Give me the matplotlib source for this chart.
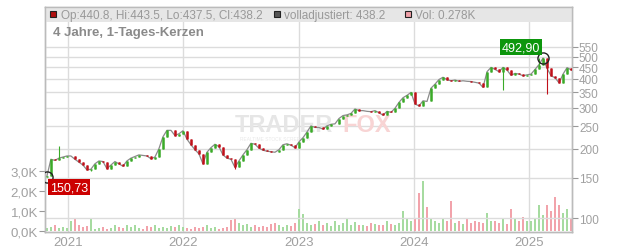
# -*- coding: utf-8 -*-
# Candlestick chart with volume, 4 years of daily candles (TraderFox style).

import numpy as np
import pandas as pd
import matplotlib
matplotlib.use("Agg")
from matplotlib import pyplot as plt
from matplotlib import dates as mdates
from matplotlib.patches import Rectangle
from matplotlib.ticker import FixedLocator, NullLocator

# ==============================================================================
# DATA
# ==============================================================================
start_date = "2020-10-25"
end_date = "2025-05-14"

closes = [
    152, 180, 178, 182, 184, 186, 186, 180, 175, 170, 162, 163,
    172, 177, 176, 164, 170, 176, 172, 168, 177, 182, 185, 188, 187,
    186, 181, 184, 200, 225, 240, 240, 228, 232, 239, 220, 208, 198, 190,
    172, 193, 202, 209, 204, 188, 182, 180, 166, 177, 188, 198, 211,
    209, 201, 197, 195, 194, 193, 198, 208, 210, 207, 202, 214, 223,
    236, 251, 247, 247, 243, 251, 255, 256, 270, 278, 280, 284, 297,
    292, 292, 290, 289, 292, 286, 279, 290, 287, 299, 317, 332, 340,
    350, 312, 306, 322, 320, 365, 380, 398, 407, 397, 393, 396, 391,
    393, 391, 390, 387, 384, 368, 430, 449, 440, 430, 449, 437, 415,
    423, 420, 413, 417, 420, 440, 462, 492.9, 445, 413, 405, 385, 420, 448, 438.2,
]
first_open = 150.73
# notable wick extremes (candle index -> value)
wick_highs = {3: 205, 111: 350, 123: 492.9}
wick_lows = {0: 150.73, 11: 160, 47: 163, 114: 360, 125: 346}

volume_k = [
    0.15, 0.2, 0.3, 0.15, 0.2, 0.12, 0.5, 0.6, 0.3, 0.2, 0.25, 0.6,
    0.1, 0.15, 0.2, 0.1, 0.15, 0.3, 0.2, 0.15, 0.3, 0.2, 0.3, 0.15, 0.1,
    0.25, 0.2, 0.3, 0.15, 0.2, 0.15, 0.25, 0.2, 0.3, 0.2, 0.15, 0.1, 0.2, 0.15,
    0.2, 0.3, 0.15, 0.2, 0.1, 0.15, 0.2, 0.55, 0.6, 0.4, 0.3, 0.35, 0.2,
    0.3, 0.2, 0.25, 0.2, 0.35, 0.4, 0.3, 0.2, 0.3, 0.25, 0.4, 1.1, 0.85,
    0.4, 0.3, 0.35, 0.5, 0.3, 0.4, 0.25, 0.5, 0.3, 0.4, 0.6, 0.3, 0.45,
    0.3, 0.3, 0.25, 0.4, 0.35, 0.3, 0.3, 0.5, 0.35, 0.3, 0.4, 1.0, 0.6,
    0.5, 0.6, 1.9, 2.5, 1.2, 0.6, 0.5, 0.4, 0.6, 0.5, 1.5, 0.4, 0.5,
    0.35, 0.6, 0.4, 0.5, 0.45, 0.4, 0.9, 0.5, 0.5, 0.4, 0.6, 0.35, 1.1,
    0.6, 0.5, 0.7, 0.5, 0.5, 0.6, 1.3, 0.8, 1.3, 1.0, 1.7, 1.3, 0.9, 1.1, 0.6,
]

price_ticks = [100, 150, 200, 250, 300, 350, 400, 450, 500, 550]
volume_ticks = [0, 1, 2, 3]
volume_tick_labels = ["0,0K", "1,0K", "2,0K", "3,0K"]
year_ticks = ["2021", "2022", "2023", "2024", "2025"]

header_ohlc = "Op:440.8, Hi:443.5, Lo:437.5, Cl:438.2"
header_adj = "volladjustiert: 438.2"
header_vol = "Vol: 0.278K"
title_text = "4 Jahre, 1-Tages-Kerzen"
max_label = "492,90"
min_label = "150,73"

# ==============================================================================
# PREPARE
# ==============================================================================
plt.rcParams["font.family"] = ["Liberation Sans", "DejaVu Sans"]

n = len(closes)
t0 = mdates.date2num(pd.Timestamp(start_date))
t1 = mdates.date2num(pd.Timestamp(end_date))
x = np.linspace(t0, t1, n)
step = (t1 - t0) / (n - 1)

opens = np.array([first_open] + closes[:-1])
closes_arr = np.array(closes)
up = closes_arr >= opens
highs = np.maximum(opens, closes_arr)
lows = np.minimum(opens, closes_arr)
for i, v in wick_highs.items():
    highs[i] = max(highs[i], v)
for i, v in wick_lows.items():
    lows[i] = min(lows[i], v)

RED = "#c0101a"
GREEN = "#3aaa28"
GRID = "#dcdcdc"
TXT = "#a0a0a0"

W, H = 632, 253
fig = plt.figure(figsize=(W / 100, H / 100), dpi=100)
left, right, top, bottom = 45, 572, 8, 233
ax_vol = fig.add_axes([left / W, 1 - bottom / H, (right - left) / W, (bottom - top) / H])
ax = ax_vol.twinx()

# ==============================================================================
# VOLUME (left axis)
# ==============================================================================
vol_colors = ["#a6dba0" if u else "#f2a3ab" for u in up]
ax_vol.bar(x, volume_k, width=step * 0.55, color=vol_colors, linewidth=0, zorder=2)
ax_vol.set_ylim(-0.07, 11.3)
ax_vol.yaxis.set_major_locator(FixedLocator(volume_ticks))
ax_vol.set_yticklabels(volume_tick_labels)
ax_vol.tick_params(axis="y", colors="#999999", labelcolor=TXT, labelsize=9.5, length=4, pad=1)

# x axis
ax_vol.set_xlim(mdates.date2num(pd.Timestamp("2020-10-19")), mdates.date2num(pd.Timestamp("2025-05-17")))
year_pos = [mdates.date2num(pd.Timestamp(y + "-01-01")) for y in year_ticks]
ax_vol.set_xticks(year_pos)
ax_vol.set_xticklabels(year_ticks)
ax_vol.tick_params(axis="x", length=0, labelcolor=TXT, labelsize=9.5, pad=3)
for xp in year_pos:
    ax_vol.axvline(xp, color=GRID, linewidth=1, zorder=0)

# ==============================================================================
# PRICE (right axis, log)
# ==============================================================================
ax.set_yscale("log")
ax.set_ylim(87.3, 818.7)
ax.yaxis.set_major_locator(FixedLocator(price_ticks))
ax.yaxis.set_minor_locator(NullLocator())
ax.set_yticklabels([str(t) for t in price_ticks])
ax.tick_params(axis="y", colors="#999999", labelcolor=TXT, labelsize=8.5, length=4, pad=1)
for p in price_ticks:
    ax.axhline(p, color=GRID, linewidth=1, zorder=0)

# watermark
ax.text(0.36, 0.48, "TRADER", transform=ax.transAxes, fontsize=17, fontweight="bold",
        color="#e6e6e6", ha="left", va="center", zorder=1)
ax.text(0.565, 0.48, "FOX", transform=ax.transAxes, fontsize=17, fontweight="bold",
        color="#f8d4d4", ha="left", va="center", zorder=1)
ax.text(0.37, 0.415, "REALTIME STOCK SCREENER", transform=ax.transAxes, fontsize=3.5,
        color="#e8e8e8", ha="left", va="center", zorder=1)

# adjusted close line
ax.plot(x, closes_arr, color="#8a8a8a", linewidth=0.9, zorder=3)

# candles
cols = [GREEN if u else RED for u in up]
ax.vlines(x, lows, highs, colors=cols, linewidth=0.8, zorder=4)
ax.vlines(x, np.minimum(opens, closes_arr), np.maximum(opens, closes_arr),
          colors=cols, linewidth=1.8, zorder=4)

# min / max markers
i_max = int(np.argmax(closes_arr))
ax.plot(x[i_max], closes_arr[i_max], "o", ms=8, mfc="none", mec="#222222", mew=1, zorder=6)
ax.annotate(max_label, (x[i_max], closes_arr[i_max]), xytext=(-22, 11), textcoords="offset pixels",
            ha="center", va="center", fontsize=9, color="white", zorder=7,
            bbox=dict(boxstyle="square,pad=0.15", fc="#0d960d", ec="none"))
ax.plot(x[0], wick_lows[0], "o", ms=8, mfc="none", mec="#222222", mew=1, zorder=6)
ax.annotate(min_label, (x[0], wick_lows[0]), xytext=(22, -10), textcoords="offset pixels",
            ha="center", va="center", fontsize=9, color="white", zorder=7,
            bbox=dict(boxstyle="square,pad=0.15", fc="#cc0000", ec="none"))

# frame
for a in (ax, ax_vol):
    for s in a.spines.values():
        s.set_color("#bbbbbb")
        s.set_linewidth(1)

# header band
ax.add_patch(Rectangle((0, 1 - 15 / (bottom - top)), 1, 15 / (bottom - top), transform=ax.transAxes,
                       facecolor="#e6e6e6", edgecolor="none", zorder=0.5))


def fx(px):
    return px / W


def fy(py):
    return 1 - py / H


def square(px, py, color):
    fig.patches.append(Rectangle((fx(px), fy(py + 5)), 6 / W, 6 / H, transform=fig.transFigure,
                                 facecolor=color, edgecolor="#222222", linewidth=0.8))


square(50, 13, "#b01010")
fig.text(fx(61), fy(16), header_ohlc, fontsize=8.5, color="#999999", va="center")
square(274, 13, "#555555")
fig.text(fx(284), fy(16), header_adj, fontsize=8.5, color="#999999", va="center")
square(405, 13, "#f0a0a8")
fig.text(fx(415), fy(16), header_vol, fontsize=8.5, color="#999999", va="center")
fig.text(fx(53), fy(33), title_text, fontsize=9.5, fontweight="bold", color="#8a8a8a", va="center")

fig.savefig("out.png", dpi=100)
